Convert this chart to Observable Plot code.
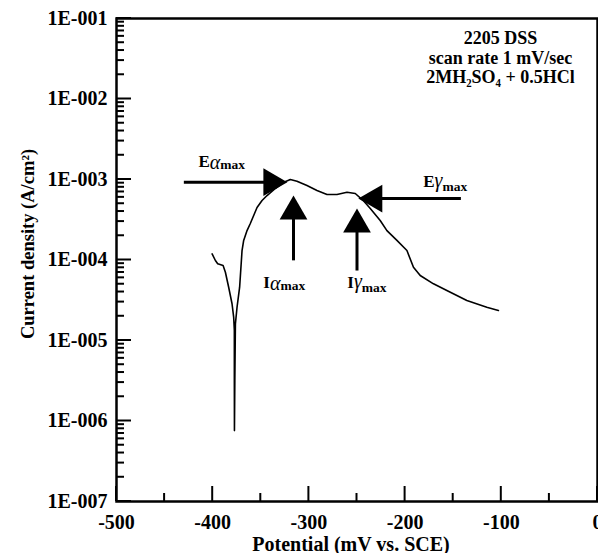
<!DOCTYPE html>
<html><head><meta charset="utf-8">
<script src="https://cdn.jsdelivr.net/npm/d3@7"></script>
<script src="https://cdn.jsdelivr.net/npm/@observablehq/plot@0.6"></script>
<style>
  html,body{margin:0;padding:0;background:#fff}
  #chart svg{display:block}
</style>
</head><body><div id="chart"></div>
<script>
// Polarization curve: potential (mV vs SCE) and current density (A/cm2)
const potential = [
  -400.6, -397.2, -394.8, -389.2, -386.8, -383.4, -379.9, -378.2, -377.5, -377.5, -377.4,
  -377.0, -376.4, -374.7, -372.0, -369.5, -367.8, -364.3, -360.9, -353.9, -348.7,
  -343.5, -334.9, -326.6, -319.3, -312.4, -302.0, -291.6, -281.2, -270.8, -260.4,
  -251.8, -243.5, -236.2, -225.9, -218.9, -208.5, -198.1, -191.3, -184.3, -170.5,
  -156.6, -135.8, -115.1, -103.0
];
const current = [
  1.19e-4, 9.86e-5, 8.97e-5, 8.55e-5, 7.05e-5, 4.59e-5, 2.86e-5, 1.95e-5, 1.33e-5, 3.18e-6, 7.6e-7,
  3.18e-6, 1.61e-5, 2.59e-5, 4.59e-5, 1.31e-4, 1.75e-4, 2.32e-4, 2.84e-4, 4.49e-4, 5.48e-4,
  6.32e-4, 7.73e-4, 9.18e-4, 1.00e-3, 9.53e-4, 8.41e-4, 7.29e-4, 6.52e-4, 6.52e-4, 6.95e-4,
  6.70e-4, 5.48e-4, 4.37e-4, 3.10e-4, 2.32e-4, 1.75e-4, 1.31e-4, 8.13e-5, 6.41e-5, 5.06e-5,
  4.18e-5, 3.14e-5, 2.59e-5, 2.36e-5
];

// Axis ticks
const xMajorTicks = [-500, -400, -300, -200, -100, 0];
const xMinorTicks = [-450, -350, -250, -150, -50];
const yMajorTicks = [1e-7, 1e-6, 1e-5, 1e-4, 1e-3, 1e-2, 1e-1];
const yTickLabels = ["1E-007", "1E-006", "1E-005", "1E-004", "1E-003", "1E-002", "1E-001"];
const yMinorMantissas = [2, 3, 4, 5, 6, 7, 8, 9];

// Annotations (data coordinates)
const arrowFromE = [-430, -316, -250, -142];
const arrowFromI = [9.25e-4, 9.9e-5, 7.4e-5, 5.8e-4];
const arrowToE = [-339, -316, -250, -232];
const arrowToI = [9.25e-4, 4.0e-4, 2.76e-4, 5.8e-4];
const arrowDir = [90, 0, 0, -90];
const labelLetter = ["E", "I", "I", "E"];
const labelGreek = ["α", "α", "γ", "γ"];
const labelE = [-414.8, -347.4, -260.1, -181.2];
const labelI = [1.45e-3, 4.55e-5, 4.55e-5, 8.18e-4];

const infoLines = ["2205 DSS", "scan rate 1 mV/sec", "2MH₂SO₄ + 0.5HCl"];
const xLabel = "Potential (mV vs. SCE)";
const yLabel = "Current density (A/cm²)";

// ---- layout
const W = 598, H = 553, mL = 116, mR = 1, mT = 18, mB = 52;
const xDomain = [-500, 0], yDomain = [1e-7, 1e-1];
const xMin = xDomain[0], yMin = yDomain[0];

const curve = potential.map((p, i) => ({E: p, I: current[i]}));
const yMinorTicks = yMajorTicks.slice(0, -1).flatMap(d => yMinorMantissas.map(m => m * d));
const arrows = arrowFromE.map((_, i) => ({x1: arrowFromE[i], y1: arrowFromI[i], x2: arrowToE[i], y2: arrowToI[i], rot: arrowDir[i]}));
const labels = labelLetter.map((l, i) => ({letter: l, greek: labelGreek[i], E: labelE[i], I: labelI[i]}));

const LABEL_FILL = "#000001";

const plot = Plot.plot({
  width: W,
  height: H,
  marginLeft: mL,
  marginRight: mR,
  marginTop: mT,
  marginBottom: mB,
  style: {fontFamily: "'Liberation Serif', 'Times New Roman', serif", fontWeight: "bold", fontSize: "20px", color: "black", background: "white", overflow: "visible"},
  x: {domain: xDomain},
  y: {type: "log", domain: yDomain},
  marks: [
    // tick labels
    Plot.axisY({ticks: yMajorTicks, tickSize: 0, tickPadding: 9, label: null,
      tickFormat: d => yTickLabels[yMajorTicks.indexOf(d)], fontSize: 20}),
    Plot.axisX({ticks: xMajorTicks, tickSize: 0, tickPadding: 13, label: null,
      tickFormat: d => String(d), fontSize: 20}),
    // curve
    Plot.line(curve, {x: "E", y: "I", stroke: "black", strokeWidth: 1.6, curve: "linear"}),
    // annotation arrows
    Plot.link(arrows, {x1: "x1", y1: "y1", x2: "x2", y2: "y2", stroke: "black", strokeWidth: 3}),
    Plot.dot(arrows, {x: "x2", y: "y2", symbol: "triangle", r: 10.3, rotate: "rot", fill: "black", stroke: "none"}),
    Plot.text(labels, {x: "E", y: "I", text: "letter", textAnchor: "start", lineAnchor: "bottom", fontSize: 17, fill: LABEL_FILL}),
    // info block
    Plot.text([infoLines.join("\n")], {frameAnchor: "top-right", dx: -97, dy: 12, textAnchor: "middle", lineAnchor: "top", lineHeight: 1.08, fontSize: 18}),
    // axis titles
    Plot.text([xLabel], {frameAnchor: "bottom", dx: -6, dy: 49, lineAnchor: "bottom", textAnchor: "middle", fontSize: 20}),
    Plot.text([yLabel], {frameAnchor: "left", dx: -88, dy: -16, rotate: -90, textAnchor: "middle", lineAnchor: "middle", fontSize: 18.5}),
    Plot.frame({stroke: "black", strokeWidth: 2.5})
  ]
});

// rich formatting of the peak labels: greek letter (italic) + "max"
const labelTexts = Array.from(plot.querySelectorAll("text")).filter(el => {
  const g = el.closest("g");
  return g && (g.getAttribute("fill") || "").toLowerCase() === LABEL_FILL;
});
labelTexts.forEach((el, i) => {
  const t = d3.select(el);
  const g = labels[i].greek;
  t.append("tspan").attr("font-style", "italic").attr("font-weight", "normal")
    .attr("font-size", 20).attr("dy", g === "α" ? 2 : 0).text(g);
  t.append("tspan").attr("font-size", 13.5).attr("dy", g === "α" ? 0 : 4).text("max");
});

// inward ticks, positioned with the plot's own scales
const sx = plot.scale("x"), sy = plot.scale("y");
const x0 = sx.apply(xMin), y0 = sy.apply(yMin);
const tg = d3.select(plot).append("g").attr("stroke", "#000").attr("stroke-width", 2).attr("fill", "none");
const yTicks = [...yMajorTicks.map(v => [v, 15]), ...yMinorTicks.map(v => [v, 8])];
const xTicks = [...xMajorTicks.map(v => [v, 15]), ...xMinorTicks.map(v => [v, 8])];
yTicks.forEach(([v, len]) => {
  const y = sy.apply(v);
  tg.append("line").attr("x1", x0).attr("x2", x0 + len).attr("y1", y).attr("y2", y);
});
xTicks.forEach(([v, len]) => {
  const x = sx.apply(v);
  tg.append("line").attr("x1", x).attr("x2", x).attr("y1", y0).attr("y2", y0 - len);
});

document.getElementById("chart").appendChild(plot);
</script>
</body></html>
